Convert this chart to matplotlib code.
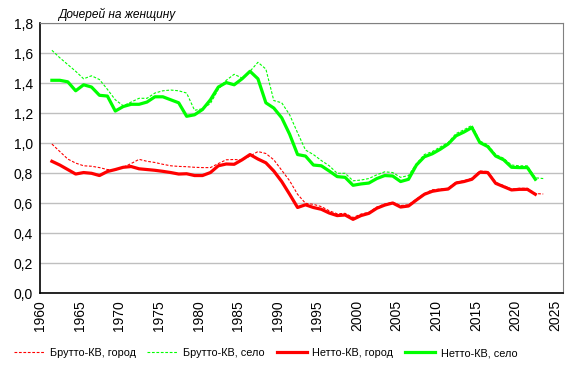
import matplotlib
matplotlib.use("Agg")
import matplotlib.pyplot as plt
import numpy as np

plt.rcParams['font.family'] = ['Liberation Sans', 'DejaVu Sans']

# data years (plotted at mid-year)
years_netto = np.arange(1961, 2023)
years_brutto = np.arange(1961, 2024)

brutto_city = [0.995, 0.945, 0.895, 0.868, 0.85, 0.847, 0.838, 0.825, 0.822, 0.84,
               0.865, 0.893, 0.88, 0.872, 0.86, 0.85, 0.846, 0.844, 0.84, 0.838,
               0.838, 0.865, 0.89, 0.892, 0.888, 0.915, 0.945, 0.932, 0.89, 0.82,
               0.75, 0.66, 0.60, 0.593, 0.578, 0.55, 0.53, 0.533, 0.505, 0.528,
               0.54, 0.575, 0.595, 0.607, 0.585, 0.59, 0.628, 0.665, 0.69, 0.695,
               0.70, 0.742, 0.75, 0.768, 0.815, 0.812, 0.74, 0.718, 0.695, 0.70,
               0.70, 0.665, 0.662]

brutto_rural = [1.62, 1.57, 1.525, 1.48, 1.43, 1.45, 1.425, 1.36, 1.29, 1.25,
                1.275, 1.30, 1.30, 1.335, 1.35, 1.355, 1.35, 1.335, 1.22, 1.23,
                1.265, 1.36, 1.42, 1.46, 1.435, 1.48, 1.54, 1.495, 1.285, 1.27,
                1.19, 1.07, 0.955, 0.925, 0.885, 0.85, 0.80, 0.80, 0.75, 0.755,
                0.765, 0.79, 0.81, 0.805, 0.773, 0.785, 0.865, 0.925, 0.945, 0.975,
                1.005, 1.065, 1.09, 1.12, 1.015, 0.99, 0.925, 0.90, 0.855, 0.85,
                0.85, 0.77, 0.765]

netto_city = [0.88, 0.855, 0.825, 0.795, 0.805, 0.80, 0.785, 0.812, 0.825, 0.84,
              0.845, 0.83, 0.825, 0.82, 0.813, 0.805, 0.795, 0.797, 0.785, 0.785,
              0.805, 0.85, 0.862, 0.86, 0.89, 0.925, 0.895, 0.87, 0.815, 0.745,
              0.66, 0.572, 0.59, 0.572, 0.56, 0.535, 0.518, 0.522, 0.493, 0.518,
              0.533, 0.567, 0.588, 0.602, 0.575, 0.582, 0.622, 0.66, 0.68, 0.689,
              0.695, 0.735, 0.745, 0.76, 0.807, 0.805, 0.733, 0.711, 0.689, 0.693,
              0.693, 0.66]

netto_rural = [1.42, 1.42, 1.41, 1.35, 1.39, 1.375, 1.32, 1.315, 1.215, 1.245,
               1.26, 1.26, 1.275, 1.31, 1.31, 1.29, 1.27, 1.18, 1.19, 1.225,
               1.29, 1.375, 1.405, 1.39, 1.43, 1.48, 1.43, 1.27, 1.235, 1.17,
               1.06, 0.925, 0.915, 0.855, 0.85, 0.815, 0.778, 0.773, 0.72, 0.729,
               0.735, 0.765, 0.785, 0.782, 0.745, 0.76, 0.855, 0.91, 0.93, 0.96,
               0.995, 1.05, 1.075, 1.105, 1.005, 0.978, 0.915, 0.89, 0.84, 0.838,
               0.838, 0.76]

red = '#FF0000'
green = '#00FF00'

fig = plt.figure(figsize=(5.75, 3.68), dpi=100)
ax = fig.add_axes([0.0696, 0.203, 0.9096, 0.7337])

l3, = ax.plot(years_netto + 0.5, netto_city, color=red, lw=2.3, label='Нетто-КВ, город')
l4, = ax.plot(years_netto + 0.5, netto_rural, color=green, lw=2.3, label='Нетто-КВ, село')
l1, = ax.plot(years_brutto + 0.5, brutto_city, color=red, lw=0.8, ls=(0, (2.5, 1.5)),
              label='Брутто-КВ, город')
l2, = ax.plot(years_brutto + 0.5, brutto_rural, color=green, lw=0.8, ls=(0, (2.5, 1.5)),
              label='Брутто-КВ, село')

ax.set_xlim(1960, 2026)
ax.set_ylim(0, 1.8)
ax.set_xticks(np.arange(1960, 2026, 5))
ax.set_xticklabels([str(y) for y in range(1960, 2026, 5)], rotation=90)
yt = np.arange(0, 1.81, 0.2)
ax.set_yticks(yt)
ax.set_yticklabels([f'{v:.1f}'.replace('.', ',') for v in yt])
ax.tick_params(length=0, labelsize=10, pad=5)
ax.yaxis.grid(True, color='#BFBFBF', lw=1)
ax.set_axisbelow(True)
for s in ['top', 'right']:
    ax.spines[s].set_color('#808080')
for s in ['left', 'bottom']:
    ax.spines[s].set_color('black')
    ax.spines[s].set_linewidth(1.2)

fig.text(0.101, 0.962, 'Дочерей на женщину', fontsize=8.6, style='italic', va='center')

fig.legend(handles=[l1, l2, l3, l4], loc='center', bbox_to_anchor=(0.462, 0.04), ncol=4,
           frameon=False, fontsize=7.8, handlelength=2.8, handletextpad=0.5,
           columnspacing=1.1)

plt.savefig('out.png', dpi=100)
